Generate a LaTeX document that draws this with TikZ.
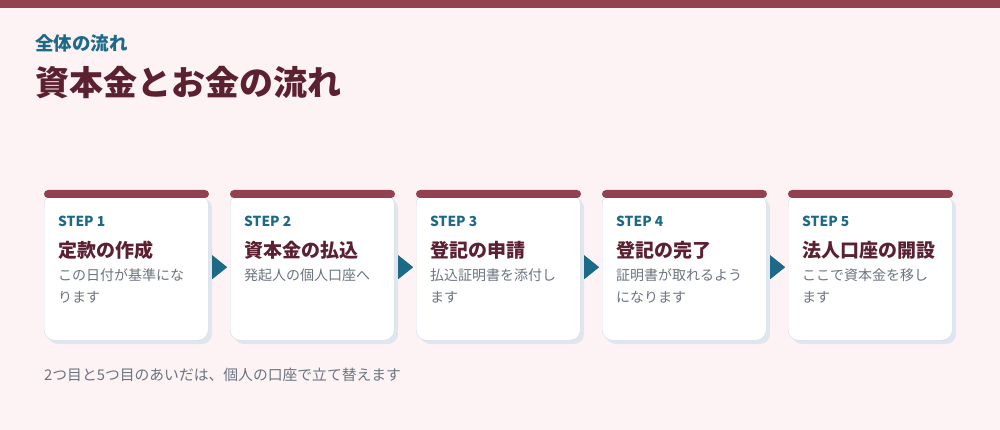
\documentclass[tikz,border=0pt]{standalone}
\usepackage{fontspec}
\setmainfont{Noto Sans CJK JP}
\usetikzlibrary{positioning,calc}
\definecolor{bgpink}{HTML}{FDF3F5}
\definecolor{maroon}{HTML}{934150}
\definecolor{darkwine}{HTML}{5C2131}
\definecolor{teal}{HTML}{1D6A88}
\definecolor{slate}{HTML}{6B7480}
\definecolor{cardline}{HTML}{D3DCE6}
\definecolor{cardshadow}{HTML}{DFE6EE}
\begin{document}
\begin{tikzpicture}[x=1pt,y=-1pt,
  card/.style={draw=cardline,fill=white,rounded corners=10pt,minimum width=164pt,minimum height=146pt,inner sep=0pt},
  shade/.style={fill=cardshadow,rounded corners=10pt},
  topbar/.style={fill=maroon,rounded corners=4pt},
  steplabel/.style={anchor=west,inner sep=0pt,font=\bfseries\fontsize{13.8}{16}\selectfont,text=teal},
  steptitle/.style={anchor=west,inner sep=0pt,font=\bfseries\fontsize{19}{22}\selectfont,text=darkwine},
  stepnote/.style={anchor=north west,inner sep=0pt,align=left,font=\fontsize{14}{22}\selectfont,text=slate},
  tri/.style={fill=teal}]
\def\cardTop{194}
\def\cardBot{340}
\useasboundingbox (0,0) rectangle (1000,430);
\fill[bgpink] (0,0) rectangle (1000,430);
\fill[maroon] (0,0) rectangle (1000,8);
% headings
\node[anchor=west,inner sep=0pt,font=\bfseries\fontsize{18.5}{20}\selectfont,text=teal] (kicker) at (35,43) {全体の流れ};
\node[anchor=west,inner sep=0pt,font=\bfseries\fontsize{34}{38}\selectfont,text=darkwine] (title) at (35,83) {資本金とお金の流れ};
% cards
\foreach \i/\x in {1/44,2/230,3/416,4/602,5/788}{
  \fill[shade] (\x+4,\cardTop+4) rectangle (\x+168,\cardBot+4);
  \node[card,anchor=north west] (card\i) at (\x,\cardTop) {};
  \fill[topbar] (\x,190) rectangle (\x+165,198);
}
\node[steplabel] (s1) at (58,221) {STEP 1};
\node[steplabel] (s2) at (244,221) {STEP 2};
\node[steplabel] (s3) at (430,221) {STEP 3};
\node[steplabel] (s4) at (616,221) {STEP 4};
\node[steplabel] (s5) at (802,221) {STEP 5};
\node[steptitle] (t1) at (58,250) {定款の作成};
\node[steptitle] (t2) at (244,250) {資本金の払込};
\node[steptitle] (t3) at (430,250) {登記の申請};
\node[steptitle] (t4) at (616,250) {登記の完了};
\node[steptitle] (t5) at (802,250) {法人口座の開設};
\node[stepnote] (n1) at (58,268.5) {この日付が基準にな\\ります};
\node[stepnote] (n2) at (244,268.5) {発起人の個人口座へ};
\node[stepnote] (n3) at (430,268.5) {払込証明書を添付し\\ます};
\node[stepnote] (n4) at (616,268.5) {証明書が取れるよう\\になります};
\node[stepnote] (n5) at (802,268.5) {ここで資本金を移し\\ます};
% arrows between cards
\foreach \a/\b in {1/2,2/3,3/4,4/5}{
  \fill[tri] ($(card\a.east)!0.5!(card\b.west)$) ++(-7,-12) -- ++(15,12) -- ++(-15,12) -- cycle;
}
\node[anchor=west,inner sep=0pt,font=\fontsize{14.8}{17}\selectfont,text=slate] (foot) at (44,375) {2つ目と5つ目のあいだは、個人の口座で立て替えます};
\end{tikzpicture}
\end{document}
